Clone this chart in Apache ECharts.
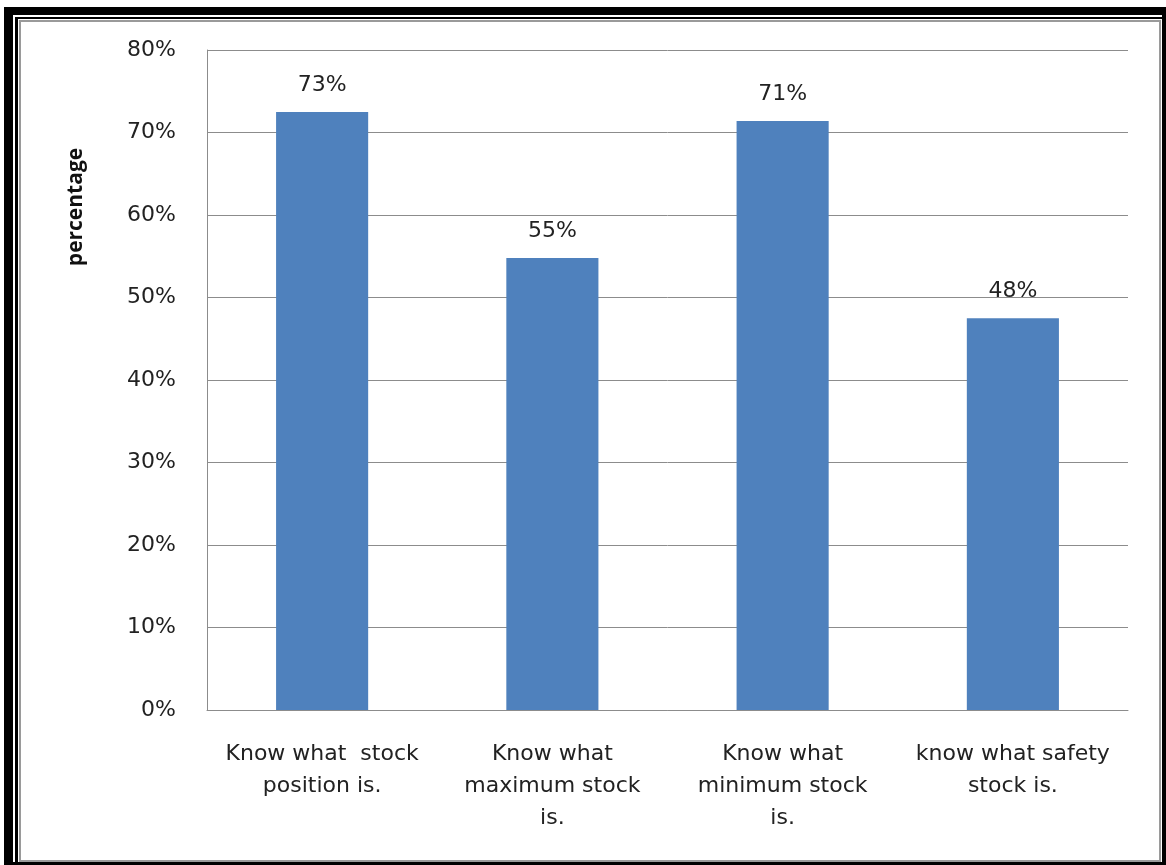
<!DOCTYPE html>
<html>
<head>
<meta charset="utf-8">
<script src="https://cdn.jsdelivr.net/npm/echarts@6/dist/echarts.min.js"></script>
<style>
  html, body { margin: 0; padding: 0; background: #fff; }
  body { width: 1166px; height: 865px; position: relative; overflow: hidden; }
  .box { position: absolute; box-sizing: border-box; }
  #chart { position: absolute; left: 0; top: 0; width: 1166px; height: 865px; }
</style>
</head>
<body>
<div class="box" style="left:4px;top:7px;width:1162px;height:858px;background:#000;"></div>
<div class="box" style="left:13px;top:15px;width:1149px;height:847px;background:#fff;"></div>
<div class="box" style="left:15px;top:17px;width:1147px;height:845px;border-left:3px solid #000;border-top:2px solid #000;background:#fff;"></div>
<div class="box" style="left:19px;top:20px;width:1142px;height:842px;border:2px solid #9a9a9a;background:#fff;"></div>
<div id="chart"></div>
<script>
// categories and values
const categories = [
  'Know what  stock\nposition is.',
  'Know what\nmaximum stock\nis.',
  'Know what\nminimum stock\nis.',
  'know what safety\nstock is.'
]
const values = [72.5, 54.8, 71.4, 47.5]

const chart = echarts.init(document.getElementById('chart'))
const font = '"DejaVu Sans", sans-serif'

chart.setOption({
  animation: false,
  grid: { left: 207, right: 38, top: 50, bottom: 155 },
  xAxis: {
    type: 'category',
    data: categories,
    axisLine: { lineStyle: { color: '#8c8c8c', width: 1 } },
    axisTick: { show: false },
    axisLabel: {
      interval: 0,
      margin: 28,
      color: '#222',
      fontFamily: font,
      fontSize: 22,
      lineHeight: 32
    }
  },
  yAxis: {
    type: 'value',
    min: 0,
    max: 80,
    interval: 10,
    axisLine: { show: true, lineStyle: { color: '#8c8c8c', width: 1 } },
    axisTick: { show: false },
    splitLine: { lineStyle: { color: '#8c8c8c', width: 1 } },
    axisLabel: {
      margin: 31,
      color: '#222',
      fontFamily: font,
      fontSize: 22,
      formatter: v => v + '%'
    }
  },
  series: [{
    type: 'bar',
    data: values,
    barWidth: '40%',
    itemStyle: { color: '#4f81bd' },
    label: {
      show: true,
      position: 'top',
      distance: 16,
      color: '#222',
      fontFamily: font,
      fontSize: 22,
      formatter: p => Math.round(p.value) + '%'
    }
  }],
  graphic: [{
    type: 'text',
    x: 76,
    y: 207,
    rotation: Math.PI / 2,
    style: {
      text: 'percentage',
      fontFamily: '"Liberation Sans Narrow", "Open Sans", sans-serif',
      fontWeight: 'bold',
      fontSize: 21,
      fill: '#111',
      align: 'center',
      verticalAlign: 'middle'
    }
  }]
})
</script>
</body>
</html>
